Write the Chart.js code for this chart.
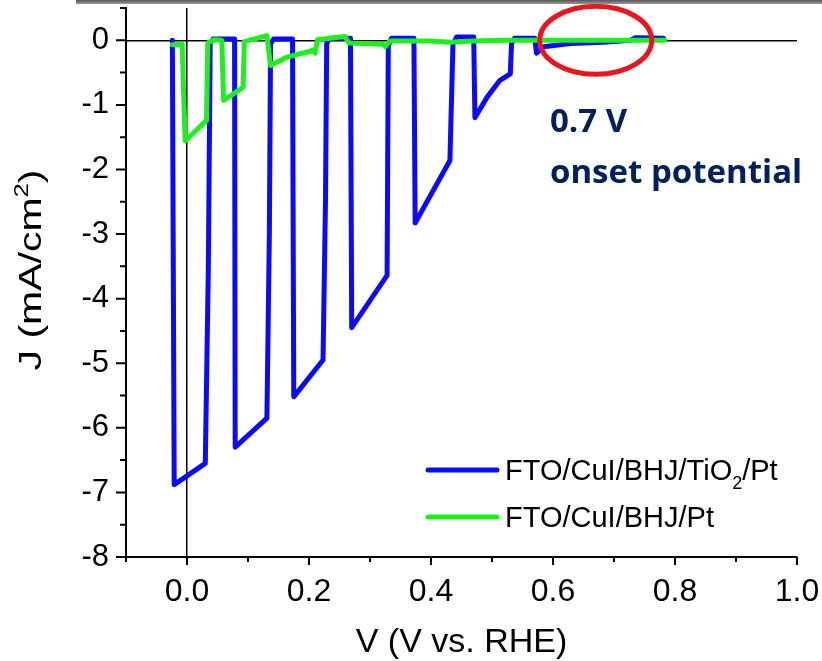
<!DOCTYPE html>
<html>
<head>
<meta charset="utf-8">
<script src="https://cdn.jsdelivr.net/npm/chart.js@4.4.1/dist/chart.umd.min.js"></script>
<style>
  html, body { margin: 0; padding: 0; background: #fff; }
  #wrap { position: relative; width: 822px; height: 661px; }
  #topbar { position: absolute; left: 76px; top: 0; width: 746px; height: 4px;
            background: linear-gradient(#555, #999); }
  canvas { display: block; }
</style>
</head>
<body>
<div id="wrap">
  <canvas id="chart" width="822" height="661"></canvas>
  <div id="topbar"></div>
</div>
<script>
// ---- data ----
const BLUE_V = [-0.024, -0.021, 0.030, 0.035, 0.038, 0.043, 0.078, 0.079, 0.131, 0.135, 0.137, 0.142,
  0.173, 0.175, 0.223, 0.227, 0.229, 0.234, 0.268, 0.270, 0.328, 0.330, 0.335, 0.372, 0.374, 0.431,
  0.436, 0.442, 0.470, 0.472, 0.492, 0.513, 0.530, 0.532, 0.537, 0.570, 0.573, 0.585, 0.628, 0.683,
  0.727, 0.735, 0.781];
const BLUE_J = [0.00, -6.88, -6.55, -3.5, -0.05, 0.02, 0.02, -6.30, -5.85, -3.0, -0.05, 0.02,
  0.02, -5.52, -4.95, -2.5, -0.05, 0.03, 0.03, -4.45, -3.64, -0.08, 0.03, 0.03, -2.83, -1.86,
  -0.06, 0.05, 0.05, -1.20, -0.88, -0.62, -0.52, -0.05, 0.03, 0.03, -0.20, -0.10, -0.05, -0.03,
  0.00, 0.04, 0.03];

const GREEN_V = [-0.024, -0.008, -0.003, 0.032, 0.034, 0.046, 0.057, 0.060, 0.092, 0.094, 0.131,
  0.137, 0.164, 0.202, 0.206, 0.210, 0.214, 0.259, 0.265, 0.322, 0.325, 0.333, 0.40, 0.43, 0.47,
  0.52, 0.60, 0.70, 0.783];
const GREEN_J = [-0.07, -0.06, -1.56, -1.24, -0.04, 0.01, 0.00, -0.93, -0.73, -0.02, 0.07,
  -0.39, -0.26, -0.17, -0.15, -0.20, 0.01, 0.06, -0.04, -0.06, -0.10, -0.01, -0.01, -0.03, -0.01,
  0.00, 0.00, 0.00, 0.00];

const SERIES_NAMES = ["FTO/CuI/BHJ/TiO_2/Pt", "FTO/CuI/BHJ/Pt"];
const SERIES_COLORS = ["#0a0aff", "#1ef01e"];

const X_TICKS = [0, 0.2, 0.4, 0.6, 0.8, 1.0];
const X_MINOR = [-0.1, 0.1, 0.3, 0.5, 0.7, 0.9];
const Y_TICKS = [0, -1, -2, -3, -4, -5, -6, -7, -8];
const Y_MINOR = [0.5, -0.5, -1.5, -2.5, -3.5, -4.5, -5.5, -6.5, -7.5];

const X_TITLE = "V (V vs. RHE)";
const Y_TITLE = "J (mA/cm^2)";
const NOTE_LINES = ["0.7 V", "onset potential"];
const ONSET_V = 0.67;

const FONT = "'Liberation Sans', Arial, sans-serif";

function toPoints(xs, ys) {
  return xs.map((x, i) => ({ x: x, y: ys[i] }));
}

// text with _n (subscript) or ^n (superscript) pieces
function richParts(text) {
  const out = [];
  text.split(/([_^]\d)/).forEach(p => {
    if (!p) return;
    if (p[0] === "_") out.push({ t: p[1], shift: 1 });
    else if (p[0] === "^") out.push({ t: p[1], shift: -1 });
    else out.push({ t: p, shift: 0 });
  });
  return out;
}

function drawRich(ctx, text, x, y, size) {
  richParts(text).forEach(p => {
    const s = p.shift ? Math.round(size * 0.62) : size;
    ctx.font = s + "px " + FONT;
    const dy = p.shift === 1 ? size * 0.31 : p.shift === -1 ? -size * 0.42 : 0;
    ctx.fillText(p.t, x, y + dy);
    x += ctx.measureText(p.t).width;
  });
}

function richWidth(ctx, text, size) {
  let w = 0;
  richParts(text).forEach(p => {
    ctx.font = (p.shift ? Math.round(size * 0.62) : size) + "px " + FONT;
    w += ctx.measureText(p.t).width;
  });
  return w;
}

// ---- tick marks: major + minor, pointing outward ----
const tickMarks = {
  id: "tickMarks",
  afterDraw(chart) {
    const { ctx, chartArea: a, scales: { x, y } } = chart;
    ctx.save();
    ctx.strokeStyle = "#000";
    ctx.lineWidth = 2;
    ctx.beginPath();
    const xt = (v, len) => { const p = x.getPixelForValue(v); ctx.moveTo(p, a.bottom); ctx.lineTo(p, a.bottom + len); };
    const yt = (v, len) => { const p = y.getPixelForValue(v); ctx.moveTo(a.left, p); ctx.lineTo(a.left - len, p); };
    X_TICKS.forEach(v => xt(v, 8));
    X_MINOR.forEach(v => xt(v, 5));
    Y_TICKS.forEach(v => yt(v, 10));
    Y_MINOR.forEach(v => yt(v, 6));
    ctx.stroke();
    ctx.restore();
  }
};

// ---- y title, drawn by hand (the original is stretched along its length) ----
const yTitle = {
  id: "yTitle",
  afterDraw(chart) {
    const { ctx } = chart;
    ctx.save();
    ctx.translate(41, 270);
    ctx.rotate(-Math.PI / 2);
    ctx.scale(1.28, 1);
    ctx.fillStyle = "#000";
    ctx.textBaseline = "alphabetic";
    const w = richWidth(ctx, Y_TITLE, 32);
    drawRich(ctx, Y_TITLE, -w / 2, 0, 32);
    ctx.restore();
  }
};

// ---- legend inside the plot, with subscript ----
const insideLegend = {
  id: "insideLegend",
  afterDraw(chart) {
    const { ctx } = chart;
    ctx.save();
    SERIES_NAMES.forEach((name, i) => {
      const ly = 470 + i * 47;
      ctx.strokeStyle = SERIES_COLORS[i];
      ctx.lineWidth = 5;
      ctx.lineCap = "round";
      ctx.beginPath();
      ctx.moveTo(428, ly);
      ctx.lineTo(497, ly);
      ctx.stroke();
      ctx.fillStyle = "#000";
      ctx.textBaseline = "alphabetic";
      drawRich(ctx, name, 505, ly + 10, 29);
    });
    ctx.restore();
  }
};

// ---- red ellipse + onset note ----
const onsetNote = {
  id: "onsetNote",
  afterDraw(chart) {
    const { ctx, scales: { x, y } } = chart;
    ctx.save();
    ctx.strokeStyle = "#e8161e";
    ctx.lineWidth = 5;
    ctx.beginPath();
    ctx.ellipse(x.getPixelForValue(ONSET_V), y.getPixelForValue(0), 56, 34, 0, 0, Math.PI * 2);
    ctx.stroke();
    ctx.fillStyle = "#002060";
    ctx.font = "bold 33px 'Open Sans', Lato, sans-serif";
    ctx.textBaseline = "alphabetic";
    ctx.fillText(NOTE_LINES[0], 550, 132);
    ctx.fillText(NOTE_LINES[1], 550, 183);
    ctx.restore();
  }
};

const zeroLine = (c) => (c.tick && c.tick.value === 0 ? "#000" : "rgba(0,0,0,0)");

new Chart(document.getElementById("chart"), {
  type: "scatter",
  data: {
    datasets: [
      {
        label: SERIES_NAMES[0],
        data: toPoints(BLUE_V, BLUE_J),
        borderColor: SERIES_COLORS[0],
        order: 1
      },
      {
        label: SERIES_NAMES[1],
        data: toPoints(GREEN_V, GREEN_J),
        borderColor: SERIES_COLORS[1],
        order: 0
      }
    ]
  },
  options: {
    responsive: false,
    animation: false,
    devicePixelRatio: 1,
    showLine: true,
    elements: {
      point: { radius: 0 },
      line: { borderWidth: 5, tension: 0, borderJoinStyle: "round", borderCapStyle: "round", fill: false }
    },
    layout: { padding: { top: 8, right: 25, left: 0, bottom: 0 } },
    plugins: { legend: { display: false }, tooltip: { enabled: false } },
    scales: {
      x: {
        type: "linear",
        min: -0.1,
        max: 1.0,
        afterBuildTicks: (s) => { s.ticks = X_TICKS.map(v => ({ value: v })); },
        afterFit: (s) => { s.height = 104; },
        grid: { color: zeroLine, lineWidth: 1.5, tickLength: 16, tickColor: "rgba(0,0,0,0)" },
        border: { display: true, color: "#000", width: 2 },
        ticks: {
          padding: 0,
          color: "#000",
          font: { family: FONT, size: 32 },
          callback: (v) => Number(v).toFixed(1)
        },
        title: {
          display: true,
          text: X_TITLE,
          color: "#000",
          font: { family: FONT, size: 34, lineHeight: 1 },
          padding: { top: 0, bottom: 1 }
        }
      },
      y: {
        type: "linear",
        min: -8,
        max: 0.5,
        afterBuildTicks: (s) => { s.ticks = Y_TICKS.map(v => ({ value: v })); },
        afterFit: (s) => { s.width = 126; },
        grid: { color: zeroLine, lineWidth: 1.5, tickLength: 17, tickColor: "rgba(0,0,0,0)" },
        border: { display: true, color: "#000", width: 2 },
        ticks: {
          padding: 0,
          color: "#000",
          font: { family: FONT, size: 31, lineHeight: 0.5 },
          callback: (v) => String(v)
        }
      }
    }
  },
  plugins: [tickMarks, yTitle, insideLegend, onsetNote]
});
</script>
</body>
</html>
